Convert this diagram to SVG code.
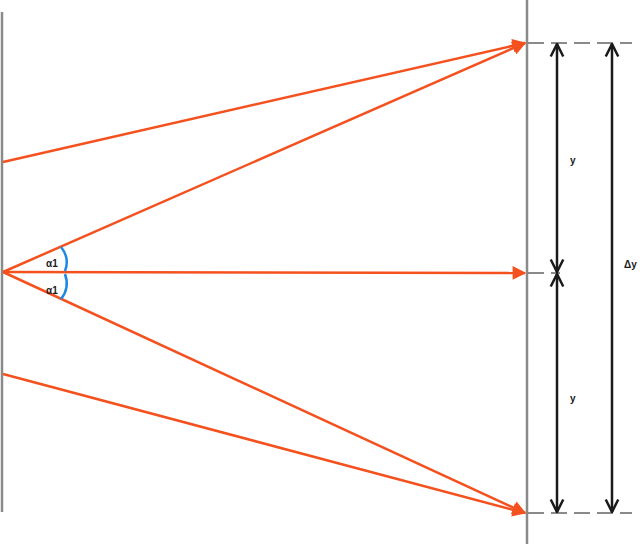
<svg xmlns="http://www.w3.org/2000/svg" width="640" height="544" viewBox="0 0 640 544">
<style>
.wall{stroke:#8a8a8a;stroke-width:2.5;fill:none}
.dash{stroke:#8a8a8a;stroke-width:2;stroke-dasharray:16 7;fill:none}
.ray{stroke:#f4511e;stroke-width:2.5;fill:none;marker-end:url(#redhead)}
.dim{stroke:#1a1a1a;stroke-width:2.5;fill:none;marker-start:url(#blk);marker-end:url(#blk)}
.arc{stroke:#1e88e5;stroke-width:2.5;fill:none}
.lbl{font-family:"Liberation Sans",Arial,sans-serif;font-size:10px;font-weight:bold;fill:#1a1a1a}
</style>
<defs>
<marker id="redhead" viewBox="0 0 10 10" refX="9" refY="5" markerWidth="6" markerHeight="5.5" orient="auto" markerUnits="strokeWidth">
<path d="M0,0 L10,5 L0,10 z" fill="#f4511e"/>
</marker>
<marker id="blk" viewBox="0 0 12 12" refX="11" refY="6" markerWidth="6" markerHeight="6.5" orient="auto-start-reverse" markerUnits="strokeWidth">
<path d="M1,1 L11,6 L1,11" fill="none" stroke="#1a1a1a" stroke-width="2"/>
</marker>
</defs>
<g id="walls">
<line class="wall" x1="2" y1="12" x2="2" y2="512"/>
<line class="wall" x1="527" y1="0" x2="527" y2="544"/>
<line class="dash" x1="528" y1="43" x2="632" y2="43"/>
<line class="dash" x1="528" y1="273" x2="560" y2="273"/>
<line class="dash" x1="528" y1="513" x2="632" y2="513"/>
</g>
<g id="connectors">
<line class="ray" x1="3" y1="162" x2="525" y2="43"/>
<line class="ray" x1="3" y1="272" x2="525" y2="43"/>
<line class="ray" x1="3" y1="272" x2="525" y2="273"/>
<line class="ray" x1="3" y1="272" x2="525" y2="513"/>
<line class="ray" x1="3" y1="374" x2="525" y2="513"/>
<line class="dim" x1="557" y1="44" x2="557" y2="272"/>
<line class="dim" x1="557" y1="274" x2="557" y2="512"/>
<line class="dim" x1="612" y1="44" x2="612" y2="512"/>
</g>
<g id="angles">
<path class="arc" d="M61,247 Q70,258 65,271"/>
<path class="arc" d="M65,274 Q70,288 61,299"/>
<text class="lbl" x="46" y="267">α1</text>
<text class="lbl" x="46" y="294">α1</text>
</g>
<g id="labels">
<text class="lbl" x="570" y="164">y</text>
<text class="lbl" x="570" y="402">y</text>
<text class="lbl" x="624" y="268">Δy</text>
</g>
</svg>
